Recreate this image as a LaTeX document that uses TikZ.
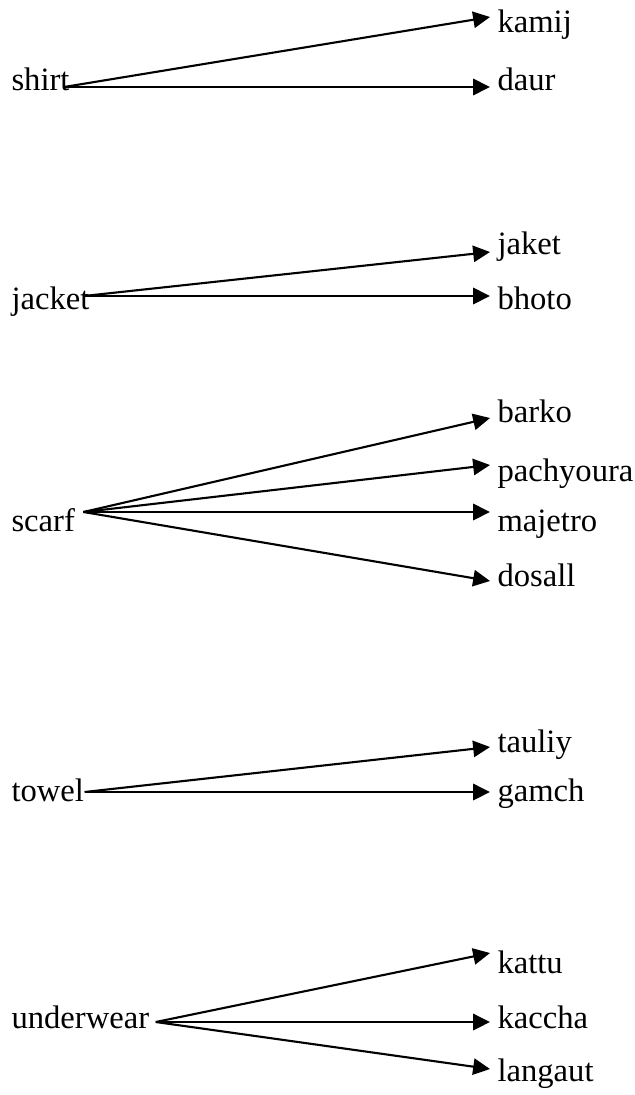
\documentclass[tikz,border=0pt]{standalone}
\usepackage{fontspec}
\setmainfont{Liberation Serif}
\usetikzlibrary{arrows.meta}

\begin{document}
\begin{tikzpicture}[
    x=0.38pt, y=-0.38pt,
    word/.style={anchor=base west, inner sep=0pt, font=\fontsize{12.4}{15}\selectfont},
    gloss/.style={word},
    arrow/.style={-{Triangle[length=6.4pt, width=6.2pt]}, line width=0.8pt}
]
\useasboundingbox (0,0) rectangle (635,1095);

% shirt
\node[word] (shirt) at (11,91) {shirt};
\node[gloss] (kamij) at (497,33) {kamij};
\node[gloss] (daur) at (497,91) {daur};

% jacket
\node[word] (jacket) at (11,309) {jacket};
\node[gloss] (jaket) at (497,254) {jaket};
\node[gloss] (bhoto) at (497,309) {bhoto};

% scarf
\node[word] (scarf) at (11,531) {scarf};
\node[gloss] (barko) at (497,422) {barko};
\node[gloss] (pachyoura) at (497,481) {pachyoura};
\node[gloss] (majetro) at (497,531) {majetro};
\node[gloss] (dosall) at (497,586) {dosall};

% towel
\node[word] (towel) at (11,801) {towel};
\node[gloss] (tauliy) at (497,752) {tauliy};
\node[gloss] (gamch) at (497,801) {gamch};

% underwear
\node[word] (underwear) at (11,1028) {underwear};
\node[gloss] (kattu) at (497,973) {kattu};
\node[gloss] (kaccha) at (497,1028) {kaccha};
\node[gloss] (langaut) at (497,1081) {langaut};

% Arrows
\draw[arrow] ([shift={(-6,-4)}]shirt.base east) -- ([shift={(-7,-16)}]kamij.base west);
\draw[arrow] ([shift={(-6,-4)}]shirt.base east) -- ([shift={(-7,-4)}]daur.base west);
\draw[arrow] ([shift={(-6,-13)}]jacket.base east) -- ([shift={(-7,-2)}]jaket.base west);
\draw[arrow] ([shift={(-6,-13)}]jacket.base east) -- ([shift={(-7,-13)}]bhoto.base west);
\draw[arrow] ([shift={(8,-19)}]scarf.base east) -- ([shift={(-7,-4)}]barko.base west);
\draw[arrow] ([shift={(8,-19)}]scarf.base east) -- ([shift={(-7,-16)}]pachyoura.base west);
\draw[arrow] ([shift={(8,-19)}]scarf.base east) -- ([shift={(-7,-19)}]majetro.base west);
\draw[arrow] ([shift={(8,-19)}]scarf.base east) -- ([shift={(-7,-5)}]dosall.base west);
\draw[arrow] ([shift={(0,-9)}]towel.base east) -- ([shift={(-7,-5)}]tauliy.base west);
\draw[arrow] ([shift={(0,-9)}]towel.base east) -- ([shift={(-7,-9)}]gamch.base west);
\draw[arrow] ([shift={(6,-6)}]underwear.base east) -- ([shift={(-7,-20)}]kattu.base west);
\draw[arrow] ([shift={(6,-6)}]underwear.base east) -- ([shift={(-7,-6)}]kaccha.base west);
\draw[arrow] ([shift={(6,-6)}]underwear.base east) -- ([shift={(-7,-12)}]langaut.base west);

\end{tikzpicture}
\end{document}
